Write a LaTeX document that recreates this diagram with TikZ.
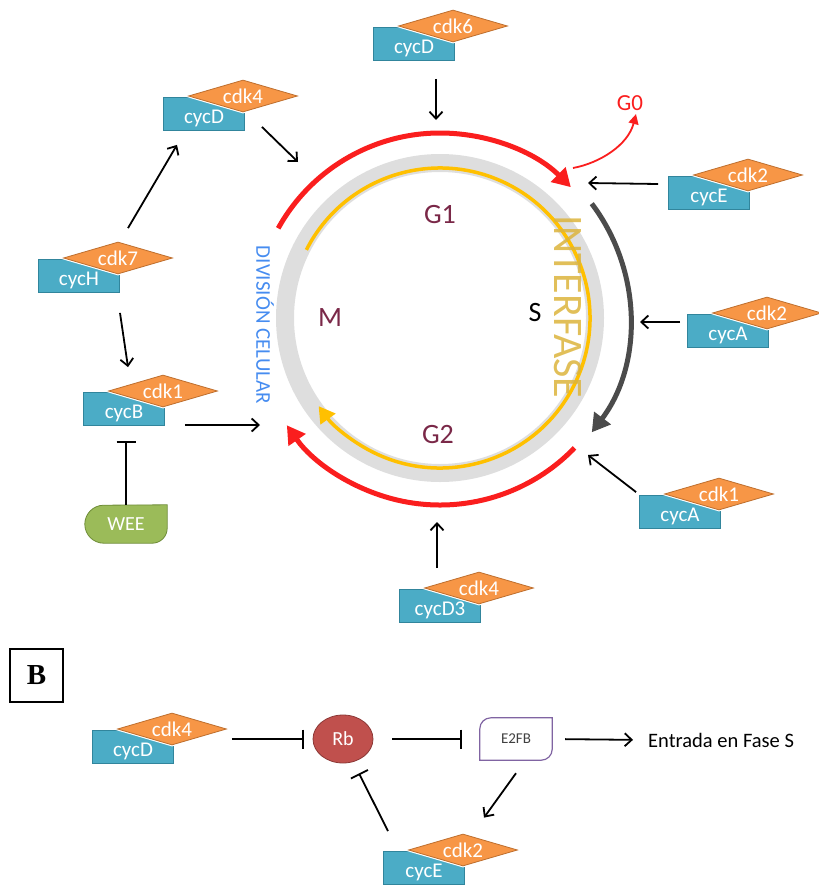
\documentclass[tikz,border=0pt]{standalone}
\usepackage{fontspec}
\setmainfont{Carlito}
\newfontfamily\boxfont{Liberation Serif}
\usetikzlibrary{shapes.geometric, arrows.meta, positioning, calc}
\definecolor{cycblue}{RGB}{75,172,198}
\definecolor{cycedge}{RGB}{49,133,156}
\definecolor{cdkorange}{RGB}{247,150,70}
\definecolor{cdkedge}{RGB}{190,110,45}
\definecolor{weegreen}{RGB}{155,187,89}
\definecolor{weeedge}{RGB}{110,140,55}
\definecolor{rbred}{RGB}{192,80,77}
\definecolor{rbedge}{RGB}{140,56,54}
\definecolor{e2fpurple}{RGB}{128,100,162}
\definecolor{phasecolor}{RGB}{122,40,72}
\definecolor{ringgray}{RGB}{222,222,222}
\definecolor{cyclered}{RGB}{250,30,30}
\definecolor{cycleyellow}{RGB}{255,192,0}
\definecolor{cycledark}{RGB}{75,75,75}
\definecolor{interfase}{RGB}{220,180,60}
\definecolor{divblue}{RGB}{70,140,240}

% cyclin box with its cdk on top
\newcommand{\cyccdk}[4]{%
    \node[cycbox] (#1) at (#2) {#3};
    \node[cdkbox] (#1-cdk) at ($(#1)+(39,-18)$) {#4};
}

\begin{document}
\begin{tikzpicture}[
    x=1pt, y=-1pt,
    cycbox/.style={draw=cycedge, fill=cycblue, line width=0.8pt, minimum width=81pt, minimum height=33pt, inner sep=0pt, text height=22pt, text=white, font=\fontsize{21}{21}\selectfont},
    cdkbox/.style={diamond, shape aspect=3.4, minimum width=109pt, minimum height=32pt, inner sep=0pt, draw=cdkedge, fill=cdkorange, line width=0.8pt, preaction={draw=white, line width=3pt}, text=white, font=\fontsize{21}{21}\selectfont},
    act/.style={-{Straight Barb[length=7pt, width=13pt]}, line width=1.8pt},
    inh/.style={-{Bar[width=19pt]}, line width=1.8pt},
    phase/.style={text=phasecolor, font=\fontsize{28}{28}\selectfont},
    cyclearc/.style={line width=5pt, -{Triangle[length=18pt, width=20pt]}}
]
    \useasboundingbox (0,0) rectangle (819,886);

    % Cell cycle
    \coordinate (ctr) at (440,318);
    \draw[ringgray, line width=18pt] (ctr) circle[radius=155];
    \draw[cycleyellow, line width=3.5pt, -{Triangle[length=16pt, width=18pt]}] ([shift={(-153:150)}]ctr) arc[start angle=-153, end angle=144, radius=150];
    \draw[cyclered, cyclearc] ([shift={(-151:185)}]ctr) arc[start angle=-151, end angle=-45, radius=185];
    \draw[cyclered, cyclearc] ([shift={(44:187)}]ctr) arc[start angle=44, end angle=145, radius=187];
    \draw[cycledark, cyclearc] ([shift={(-37:190)}]ctr) arc[start angle=-37, end angle=37, radius=190];

    \node[phase] (g1) at (440,215) {G1};
    \node[phase] (m) at (330,318) {M};
    \node[font=\fontsize{28}{28}\selectfont] (s) at (535,313) {S};
    \node[phase] (g2) at (438,435) {G2};
    \node[rotate=-90, text=interfase, text opacity=0.85, font=\fontsize{42}{42}\selectfont] (intf) at (568,307) {INTERFASE};
    \node[rotate=-90, text=divblue, font=\fontsize{21}{21}\selectfont] (div) at (265,325) {DIVISIÓN CELULAR};

    % G0 exit
    \node[text=cyclered, font=\fontsize{23}{23}\selectfont] (g0) at (630,103) {G0};
    \coordinate (g0s) at (573,168);
    \draw[cyclered, line width=1.8pt, -{Triangle[length=10pt, width=10pt]}] (g0s) .. controls (600,163) and (628,145) .. ([xshift=6pt]g0.south);

    % Complexes
    \cyccdk{cd6}{414,44}{cycD}{cdk6}
    \cyccdk{cd4}{204,114}{cycD}{cdk4}
    \cyccdk{ce2}{709,193}{cycE}{cdk2}
    \cyccdk{ch7}{79,276}{cycH}{cdk7}
    \cyccdk{ca2}{728,331}{cycA}{cdk2}
    \cyccdk{cb1}{124,409}{cycB}{cdk1}
    \cyccdk{ca1}{680,512}{cycA}{cdk1}
    \cyccdk{cd3}{440,606}{cycD3}{cdk4}

    \node[minimum width=82pt, minimum height=38pt, inner sep=0pt] (wee) at (126,524) {};
    \draw[fill=weegreen, draw=weeedge, line width=0.8pt] (wee.north east) -- ([yshift=15pt]wee.south east) arc[start angle=0, end angle=-90, radius=15pt] -- ([xshift=19pt]wee.south west) arc[start angle=-90, end angle=-270, radius=19pt] -- cycle;
    \node[text=white, font=\fontsize{20}{20}\selectfont] at (wee) {WEE};

    % targets on the cycle
    \coordinate (t-cd6) at (436,120);
    \coordinate (t-cd4) at (298,162);
    \coordinate (t-cb1) at (260,425);
    \coordinate (t-cd3) at (437,522);
    \coordinate (t-ca1) at (588,455);
    \coordinate (t-ca2) at (640,322);
    \coordinate (t-ce2) at (588,183);

    \draw[act] ([shift={(22,18)}]cd6.south) -- (t-cd6);
    \draw[act] ([shift={(17,-4)}]cd4.south east) -- (t-cd4);
    \draw[act] ([shift={(49,-31)}]ch7.north) -- ([shift={(-27,14)}]cd4.south);
    \draw[act] ([shift={(41,20)}]ch7.south) -- ([shift={(4,-25)}]cb1.north);
    \draw[act] ([shift={(20,16)}]cb1.east) -- (t-cb1);
    \draw[inh] (wee.north) -- ([shift={(2,15)}]cb1.south);
    \draw[act] ([shift={(-3,-21)}]cd3.north) -- (t-cd3);
    \draw[act] ([shift={(-3,-3)}]ca1.north west) -- (t-ca1);
    \draw[act] ([shift={(-7,-9)}]ca2.west) -- (t-ca2);
    \draw[act] ([shift={(-10,-9)}]ce2.west) -- (t-ce2);

    % Panel B
    \node[draw, line width=1.8pt, minimum size=53pt, inner sep=0pt, font=\boxfont\bfseries\fontsize{29}{29}\selectfont] (lblB) at (36.5,675.5) {B};

    \cyccdk{bd4}{133,747}{cycD}{cdk4}
    \cyccdk{be2}{424,868}{cycE}{cdk2}

    \node[ellipse, minimum width=60pt, minimum height=48pt, inner sep=0pt, fill=rbred, draw=rbedge, line width=0.8pt, text=white, font=\fontsize{20}{20}\selectfont] (rb) at (343,739) {Rb};

    \node[minimum width=72pt, minimum height=42pt, inner sep=0pt, text=black!75, font=\fontsize{15}{15}\selectfont] (e2f) at (516,739) {E2FB};
    \draw[e2fpurple, line width=1.2pt] (e2f.north east) -- ([yshift=11pt]e2f.south east) arc[start angle=0, end angle=-90, radius=11pt] -- (e2f.south west) -- ([yshift=-11pt]e2f.north west) arc[start angle=180, end angle=90, radius=11pt] -- cycle;

    \node[anchor=west, inner sep=0pt, font=\fontsize{20.5}{20.5}\selectfont] (entrada) at (648,740) {Entrada en Fase S};

    \draw[inh] ([shift={(58,-8)}]bd4.east) -- ([xshift=-9pt]rb.west);
    \draw[inh, shorten <=19pt, shorten >=18pt] (rb.east) -- (e2f.west);
    \draw[act, shorten <=13pt, shorten >=15pt] (e2f.east) -- (entrada.west);
    \draw[act] ([shift={(0,13)}]e2f.south) -- ([shift={(21,-16)}]be2-cdk.north);
    \draw[inh] ([shift={(-36,-20)}]be2.north) -- ([shift={(16,10)}]rb.south);
\end{tikzpicture}
\end{document}
